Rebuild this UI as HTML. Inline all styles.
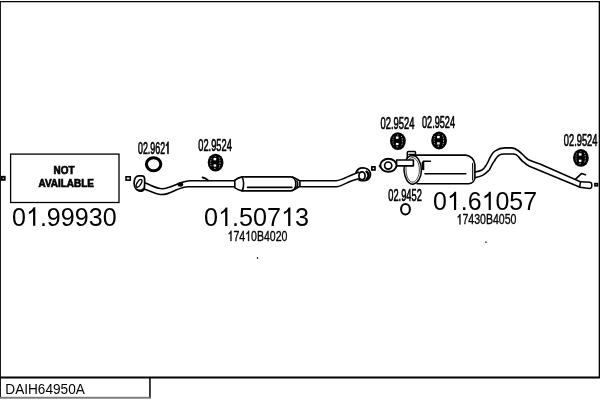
<!DOCTYPE html>
<html><head><meta charset="utf-8">
<style>
html,body{margin:0;padding:0;background:#fff;width:600px;height:400px;overflow:hidden}
svg{display:block;position:absolute;left:0;top:0;filter:grayscale(1)}
text{font-family:"Liberation Sans",sans-serif;fill:#000}
.big{font-size:25.8px}
.lab{font-size:16.8px;stroke:#000;stroke-width:0.7px}
.h{fill:none;stroke:none}
.sub{font-size:14.4px;stroke:#000;stroke-width:0.35px}
</style></head><body>
<svg width="600" height="400" viewBox="0 0 600 400">

<defs>
  <g id="mount">
    <ellipse cx="0" cy="0" rx="7.9" ry="8.9" fill="#000"/>
    <rect x="-2" y="-4.6" width="2.6" height="2.3" fill="#fff"/>
    <rect x="-2" y="1.8" width="2.6" height="2.2" fill="#f4f4f4"/>
    <path d="M-4.2,-4.5 C-5.2,-2 -5.2,2 -4.2,4.5" stroke="#8a8a8a" stroke-width="1" fill="none" stroke-dasharray="1.3 1"/>
    <path d="M3.4,-5.2 C4.8,-2.5 4.8,2.5 3.4,5.2" stroke="#9a9a9a" stroke-width="1" fill="none" stroke-dasharray="1.5 1"/>
    <rect x="-1.4" y="5.2" width="1.3" height="1.1" fill="#aaa"/>
    <rect x="-0.8" y="-6.6" width="1.2" height="1" fill="#777"/>
  </g>
</defs>
<use href="#mount" x="215.6" y="162.6"/>
<use href="#mount" x="397.9" y="141.1"/>
<use href="#mount" x="439.1" y="140.5"/>
<use href="#mount" x="580.9" y="157.9"/>
<ellipse cx="153.6" cy="164.2" rx="7.2" ry="6.5" fill="none" stroke="#000" stroke-width="3.1"/>
<ellipse cx="405.5" cy="209.2" rx="4.4" ry="5.3" fill="none" stroke="#000" stroke-width="2"/>
<rect x="256.9" y="257.2" width="1.2" height="1.6" fill="#000"/>
<rect x="485" y="241.4" width="1.8" height="1.6" fill="#666"/>
<g fill="none" stroke="#000">
  <!-- outer frame -->
  <path d="M0 1 H600 V2.3 H0 Z M0 1 H0.9 V398 H0 Z M598.7 1 H600 V378 H598.7 Z M0 376.5 H600 V378.5 H0 Z M149.2 377 H150.7 V398.2 H149.2 Z" fill="#000" stroke="none"/>
  <!-- NOT AVAILABLE box -->
  <rect x="10.6" y="154.1" width="108.4" height="48.4" stroke-width="1.3"/>
  <!-- small squares -->
  <rect x="0" y="396.8" width="150.6" height="1.9" fill="#7a7a7a" stroke="none"/>
  <rect x="1.7" y="176.8" width="3" height="3" stroke-width="1.9"/>
  <rect x="126.05" y="176.8" width="4.2" height="3.3" stroke-width="1.6"/>
  <rect x="371.85" y="166.85" width="3.1" height="3.1" stroke-width="1.7"/>
  <rect x="594.9" y="183.6" width="2.6" height="2.2" stroke-width="1.6"/>
</g>


<g fill="none" stroke="#000" stroke-width="1.6" stroke-linejoin="round" stroke-linecap="round">
  <g transform="translate(0,0.45)">
  <!-- ===== front pipe 01.50713 ===== -->
  <!-- flange -->
  <path d="M135.3,177.4 C136,176.2 137,175.6 138.5,175.5 H142 C143.3,175.6 144.4,176.6 144.6,178.3 C144.8,181 144.7,185 144.3,188 C144,189.6 143,190.6 141.6,190.6 C139.8,190.5 137.5,189.8 136.3,188.8 C135,187.5 134.2,185.5 134.1,183 C134.1,180.5 134.5,178.6 135.3,177.4 Z" stroke-width="1.7"/>
  <ellipse cx="139" cy="182.9" rx="1.9" ry="4.4" transform="rotate(32 139 182.9)" stroke-width="1.4"/>
  <path d="M139.5,190.2 C141,190.4 142.6,190 143.6,188.4" stroke-width="2.2"/>
  <!-- pipe -->
  <path d="M144.6,182.4 C151,184.5 156,188 162,188.3 C166,188.4 172,186 178.3,183.3 C183,181.5 186,180.3 190,180.3 H234.6"/>
  <path d="M144.3,188.6 C150,190.5 155,193.5 160,194 C164,194.5 170,192.5 175,190 C180,188 184,186.3 188,186.3 H234.6"/>
  <ellipse cx="180.4" cy="184" rx="2.8" ry="2.2" fill="#000" stroke="none"/>
  <path d="M202.6,177 C204.5,177.2 206.2,178.1 207.8,179.8" stroke-width="1.9"/>
  <!-- middle muffler -->
  <path d="M234.8,180 V187"/>
  <path d="M234.9,179.7 C237,178 239,177 242,176.4 H290.9 C294,176.6 295.8,180 295.8,183.4 C295.8,187 294,190 291,190.4 H242 C239,189.8 237,189 234.9,187.3"/>
  <path d="M242,176.5 C244,179 244.2,187 242.2,190.3"/>
  <path d="M247.4,186.9 H291.9"/>
  <path d="M292.5,176.6 C295,177.5 297.5,179 299.6,180.3 M292.5,190.2 C295,189 297.5,187.5 299.6,186"/>
  <path d="M296.8,180.6 C298,182 298,185 296.8,186.4"/>
  <path d="M299.9,180.3 V186"/>
  <!-- right pipe to flange -->
  <path d="M299.9,180.3 H336 C341,180 346,177 350,175.2 C353,174 356,172.6 358.8,171.7"/>
  <path d="M299.9,186.3 H336.7 C341,185.7 346,182.8 350,181 C353,180 356,179 358.3,178.3"/>
  <!-- flange right -->
  <path d="M356,172.2 C357.2,169 360,167.3 363,167.4 C366.2,167.5 369.6,169.5 370.3,172.5 C371,175.5 369.5,178.5 366.5,179.6 C364,180.5 361,180.3 359,179.4" stroke-width="1.8"/>
  <path d="M366.6,171.3 C369.2,173 369.2,177 366.6,178.6" stroke-width="2.6"/>
  <ellipse cx="362" cy="175.4" rx="3.1" ry="3.9" stroke-width="1.7"/>
  <path d="M379.3,165 V166.6" stroke-width="1"/>

  </g>
  <!-- ===== rear section 01.61057 ===== -->
  <!-- end cap -->
  <path d="M412.5,155.6 C417.5,155.8 421.3,162 421.4,170 C421.5,177 418,183 413,184.2 C408,184 404.5,178 404,170 C403.7,162 407,155.6 412.5,155.6 Z" stroke-width="1.5"/>
  <path d="M412.5,157.6 C416.5,157.8 419.3,163 419.4,170 C419.5,176 416.5,181 413,182.2 C409,182 406.3,177 406,170 C405.7,163 408.5,157.6 412.5,157.6 Z" stroke-width="0.9" stroke="#333"/>
  <!-- bracket -->
  <path d="M407.3,158 V152.4 C407.3,151.8 407.8,151.4 408.5,151.4 H414.6 C415.2,151.4 415.5,151.9 415.5,152.6 V153.6 M409,154.4 H415" stroke-width="1.5"/>
  <!-- pipe -->
  <path d="M396.6,160 H413.4 V165.9 H396.6 Z" fill="#fff"/>
  <ellipse cx="388.4" cy="165.3" rx="8.1" ry="6.5" stroke-width="1.9" fill="#fff"/>
  <circle cx="388.2" cy="165.6" r="3.6" stroke-width="1.7"/>
  <!-- body -->
  <path d="M412,155.1 H465.8 C470,155.5 474.5,159 474.9,164.5 V178 C474.7,181 472,183.5 468.5,183.8 H417"/>
  <path d="M472.6,163.5 C472.8,168 472.8,174 472.6,180" stroke-width="1.1"/>
  <path d="M425,173.8 H465.8"/>
  <path d="M423.2,169.5 V161.2 H430.5" stroke-width="1.5"/>
  <path d="M423,162 V170" stroke-width="2.6" stroke-linecap="butt"/>
  <!-- tailpipe -->
  <path d="M475.3,172 C478,171.5 480,171 482,170 C485,168 487,165 490,157.5 C492,154 493,152 495.3,150.9 C498,149 501,148 504.9,147.9 H511.9 C514,148 516,149 518,150.5 C520,152 522,154 523.2,155 C525,157 527,159 528.5,159.7 C531,161 533,161.5 540,164 L580.3,181.8"/>
  <path d="M475.3,177.6 C478,177 480.5,176.5 482.6,175.4 C486,173.5 488,171 489.4,169.75 C491,167 493,162.5 494.4,161 C496,158 498,155.5 499.6,154.9 C501,154.2 502.5,154 504,154 H513.6 C515.5,154.2 517,155 518,156.2 C520,158.5 522,161 523.3,161.9 C525,163.5 527,165 529.4,166.3 L579.5,187.1"/>
  <path d="M580.5,181.8 L590,182.3 C591.5,182.5 592,184 591.8,186 C591.6,187.8 590.8,188.6 589.5,188.6 L579.6,187.3" stroke-width="1.5"/>
  <path d="M580.5,181.8 L579.6,187.3" stroke-width="1.5"/>
  <path d="M575.8,178.9 L581.4,173.6 L585.5,174.8" stroke-width="1.6"/>
</g>

<text class="lab" x="53.6" y="174.3" style="font-size:11.3px" textLength="21" lengthAdjust="spacingAndGlyphs" font-weight="bold">NOT</text>
<text class="lab" x="38.5" y="187.1" style="font-size:11.3px" textLength="55.4" lengthAdjust="spacingAndGlyphs" font-weight="bold">AVAILABLE</text>

<text class="big" x="12" y="225.8" textLength="104.6" lengthAdjust="spacingAndGlyphs">0<tspan class="h">1</tspan>.99930</text>
<text class="big" x="204" y="226" textLength="105" lengthAdjust="spacingAndGlyphs">0<tspan class="h">1</tspan>.507<tspan class="h">1</tspan>3</text>
<text class="big" x="433" y="210.1" textLength="104" lengthAdjust="spacingAndGlyphs">0<tspan class="h">1</tspan>.6<tspan class="h">1</tspan>057</text>

<text class="sub" x="227.5" y="241" textLength="60" lengthAdjust="spacingAndGlyphs"><tspan class="h">1</tspan>74<tspan class="h">1</tspan>0B4020</text>
<text class="sub" x="456.5" y="224.4" textLength="60" lengthAdjust="spacingAndGlyphs"><tspan class="h">1</tspan>7430B4050</text>
<text class="sub" style="stroke:none" x="5.3" y="394" textLength="79.5" lengthAdjust="spacingAndGlyphs">DAIH64950A</text>

<text class="lab" x="138" y="153.8" textLength="32" lengthAdjust="spacingAndGlyphs">02.962<tspan class="h">1</tspan></text>
<text class="lab" x="198.3" y="151" textLength="33.5" lengthAdjust="spacingAndGlyphs">02.9524</text>
<text class="lab" x="380.5" y="129.2" textLength="34" lengthAdjust="spacingAndGlyphs">02.9524</text>
<text class="lab" x="422" y="128.2" textLength="33" lengthAdjust="spacingAndGlyphs">02.9524</text>
<text class="lab" x="388.3" y="201" textLength="33.5" lengthAdjust="spacingAndGlyphs">02.9452</text>
<text class="lab" x="563.8" y="145.8" textLength="33.6" lengthAdjust="spacingAndGlyphs">02.9524</text>

<g id="ones" fill="#000">
<path d="M763,0 H583 V1147 Q518,1085 412,1023 Q307,961 240,936 V1110 Q361,1167 466,1259 Q572,1352 631,1466 H763 Z" transform="translate(25.94,225.80) scale(0.012254,-0.012598)"/>
<path d="M763,0 H583 V1147 Q518,1085 412,1023 Q307,961 240,936 V1110 Q361,1167 466,1259 Q572,1352 631,1466 H763 Z" transform="translate(218.00,226.00) scale(0.012301,-0.012598)"/>
<path d="M763,0 H583 V1147 Q518,1085 412,1023 Q307,961 240,936 V1110 Q361,1167 466,1259 Q572,1352 631,1466 H763 Z" transform="translate(280.98,226.00) scale(0.012301,-0.012598)"/>
<path d="M763,0 H583 V1147 Q518,1085 412,1023 Q307,961 240,936 V1110 Q361,1167 466,1259 Q572,1352 631,1466 H763 Z" transform="translate(446.86,210.10) scale(0.012184,-0.012598)"/>
<path d="M763,0 H583 V1147 Q518,1085 412,1023 Q307,961 240,936 V1110 Q361,1167 466,1259 Q572,1352 631,1466 H763 Z" transform="translate(481.52,210.10) scale(0.012184,-0.012598)"/>
<path d="M763,0 H583 V1147 Q518,1085 412,1023 Q307,961 240,936 V1110 Q361,1167 466,1259 Q572,1352 631,1466 H763 Z" transform="translate(227.50,241.00) scale(0.005172,-0.007031)" stroke="#000" stroke-width="0.35" vector-effect="non-scaling-stroke"/>
<path d="M763,0 H583 V1147 Q518,1085 412,1023 Q307,961 240,936 V1110 Q361,1167 466,1259 Q572,1352 631,1466 H763 Z" transform="translate(245.14,241.00) scale(0.005172,-0.007031)" stroke="#000" stroke-width="0.35" vector-effect="non-scaling-stroke"/>
<path d="M763,0 H583 V1147 Q518,1085 412,1023 Q307,961 240,936 V1110 Q361,1167 466,1259 Q572,1352 631,1466 H763 Z" transform="translate(456.50,224.40) scale(0.005172,-0.007031)" stroke="#000" stroke-width="0.35" vector-effect="non-scaling-stroke"/>
<path d="M763,0 H583 V1147 Q518,1085 412,1023 Q307,961 240,936 V1110 Q361,1167 466,1259 Q572,1352 631,1466 H763 Z" transform="translate(165.06,153.80) scale(0.004334,-0.008203)" stroke="#000" stroke-width="0.7" vector-effect="non-scaling-stroke"/>
</g>
</svg>
</body></html>
